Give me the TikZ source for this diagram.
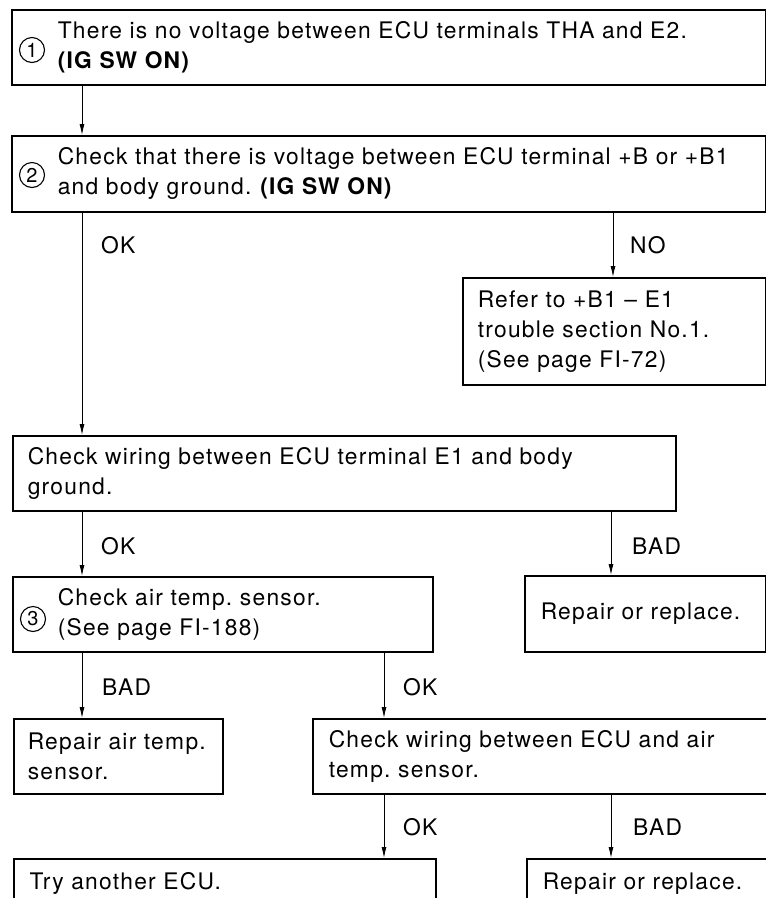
\documentclass[tikz,border=0pt]{standalone}
\usepackage{fontspec}
\setmainfont{TeX Gyre Heros}[LetterSpace=5.5]
\usetikzlibrary{arrows.meta}
\begin{document}
\frenchspacing
\begin{tikzpicture}[x=1pt,y=-1pt,
  txt/.style={font=\fontsize{22.8}{30}\selectfont\frenchspacing},
  box/.style n args={4}{txt, draw, line width=1.5pt, anchor=north west, align=left,
    minimum width=#1, minimum height=#2, inner xsep=#3, text width=#4, inner ysep=0pt},
  circ/.style={circle, draw, line width=1.1pt, inner sep=0pt, minimum size=25pt,
    font=\fontsize{20}{20}\selectfont},
  lbl/.style={txt, anchor=west, inner sep=0pt},
  arr/.style={line width=0.9pt, -{Latex[length=11pt,width=5pt]}}
]
\useasboundingbox (0,0) rectangle (766,898);
\fill[white] (0,0) rectangle (766,898);
\clip (0,0) rectangle (766,898);

% boxes
\node[box={754pt}{75pt}{46pt}{662pt}] (b1) at (11,9)
  {\mbox{There is no voltage between ECU terminals THA and E2.}\\\textbf{(IG SW ON)}};
\node[box={754pt}{76pt}{46pt}{662pt}] (b2) at (11,135)
  {\mbox{Check that there is voltage between ECU terminal +B or +B1}\\and body ground. \textbf{(IG SW ON)}};
\node[box={303pt}{107pt}{15pt}{273pt}] (bno) at (462,277)
  {Refer to +B1 -- E1\\trouble section No.1.\\(See page FI-72)};
\node[box={663pt}{75pt}{15pt}{633pt}] (be1) at (12,435)
  {Check wiring between ECU terminal E1 and body\\ground.};
\node[box={420pt}{75pt}{45pt}{330pt}] (b3) at (12,576)
  {Check air temp. sensor.\\(See page FI-188)};
\node[box={241pt}{76pt}{16pt}{209pt}] (brr1) at (524,575)
  {Repair or replace.};
\node[box={209pt}{75pt}{14pt}{181pt}] (bra) at (13,718)
  {\mbox{Repair air temp.}\\sensor.};
\node[box={458pt}{75pt}{16pt}{426pt}] (bcw) at (312,718)
  {Check wiring between ECU and air\\temp. sensor.};
\node[box={422pt}{50pt}{16pt}{390pt}] (btry) at (13,858)
  {Try another ECU.};
\node[box={244pt}{50pt}{16pt}{212pt}] (brr2) at (526,858)
  {Repair or replace.};

% circled numbers
\node[circ] (c1) at (32,50) {1};
\node[circ] (c2) at (32,175) {2};
\node[circ] (c3) at (33,619) {3};

% connector x positions
\coordinate (xa) at (82,0);
\coordinate (xb) at (613,0);
\coordinate (xc) at (611,0);
\coordinate (xd) at (384,0);

% connectors
\draw[arr] (b1.south -| xa) -- (b2.north -| xa);
\draw[arr] (b2.south -| xa) -- (be1.north -| xa);
\draw[arr] (b2.south -| xb) -- (bno.north -| xb);
\draw[arr] (be1.south -| xa) -- (b3.north -| xa);
\draw[arr] (be1.south -| xc) -- (brr1.north -| xc);
\draw[arr] (b3.south -| xa) -- (bra.north -| xa);
\draw[arr] (b3.south -| xd) -- (bcw.north -| xd);
\draw[arr] (bcw.south -| xd) -- (btry.north -| xd);
\draw[arr] (bcw.south -| xc) -- (brr2.north -| xc);

% labels
\node[lbl] (l1) at (101,245) {OK};
\node[lbl] (l2) at (630,245) {NO};
\node[lbl] (l3) at (101,546) {OK};
\node[lbl] (l4) at (632,546) {BAD};
\node[lbl] (l5) at (102,687) {BAD};
\node[lbl] (l6) at (403,687) {OK};
\node[lbl] (l7) at (403,827) {OK};
\node[lbl] (l8) at (633,827) {BAD};
\end{tikzpicture}
\end{document}
